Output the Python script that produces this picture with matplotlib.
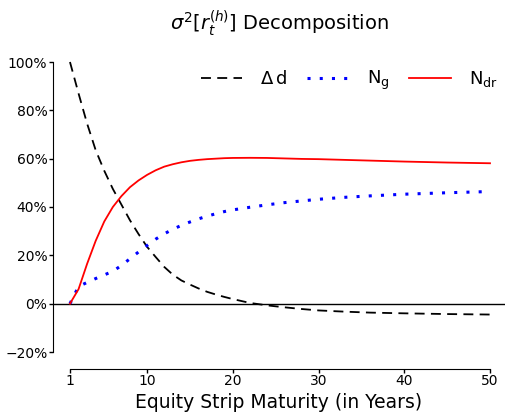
import matplotlib
matplotlib.use("Agg")
import matplotlib.pyplot as plt

plt.rcParams['font.family'] = ['DejaVu Sans']
plt.rcParams['mathtext.fontset'] = 'dejavusans'

# Maturity in years
years = [1, 2, 3, 4, 5, 6, 7, 8, 9, 10, 11, 12, 13, 14, 15, 16, 17, 18, 19, 20,
         22, 24, 26, 28, 30, 33, 36, 40, 45, 50]
# Share of variance (in %)
delta_d = [100, 87, 74.5, 63.5, 55, 47.5, 41, 34.5, 28.8, 23.5, 19.3, 15.2, 12, 9.6, 7.9,
           6.3, 4.9, 3.8, 2.8, 1.9, 0.3, -0.7, -1.5, -2.2, -2.8, -3.3, -3.7, -4.0, -4.3, -4.5]
n_g = [0, 7.1, 8.8, 10.4, 11.9, 13.4, 15.8, 18.6, 21.4, 24.1, 26.7, 28.9, 30.8, 32.4, 33.8,
       35.1, 36.2, 37.2, 38.1, 38.8, 39.9, 40.9, 41.8, 42.5, 43.2, 44.0, 44.6, 45.3, 45.9, 46.4]
n_dr = [0, 6.0, 16.5, 26, 34, 40, 44.5, 48.2, 51, 53.3, 55.2, 56.7, 57.7, 58.5, 59.1,
        59.5, 59.8, 60.0, 60.2, 60.3, 60.35, 60.3, 60.1, 59.9, 59.8, 59.5, 59.2, 58.8, 58.4, 58.1]

xticks = [1, 10, 20, 30, 40, 50]
yticks = [-20, 0, 20, 40, 60, 80, 100]
ytick_labels = [f"{v}%".replace("-", "\u2212") for v in yticks]

title = r"$\sigma^2[r_t^{(h)}]$ Decomposition"
xlabel = "Equity Strip Maturity (in Years)"
legend_labels = [r"$\Delta\,\mathrm{d}$", r"$\mathrm{N_g}$", r"$\mathrm{N_{dr}}$"]

fig = plt.figure(figsize=(5.06, 4.15), dpi=100)
ax = fig.add_axes([53/506, 1 - 352/415, 452/506, 290/415])

ax.axhline(0, color="black", lw=1.0, zorder=1)
l1, = ax.plot(years, delta_d, color="black", lw=1.3, dashes=(5.5, 3.5), clip_on=False)
l2, = ax.plot(years, n_g, color="blue", lw=2.2, linestyle=(0, (1, 3)), clip_on=False)
l3, = ax.plot(years, n_dr, color="red", lw=1.3, clip_on=False)

ax.set_xlim(-0.98, 51.75)
ax.set_ylim(-20, 100)
ax.set_xticks(xticks)
ax.set_yticks(yticks)
ax.set_yticklabels(ytick_labels)
ax.tick_params(labelsize=10, length=2.6, width=1, pad=1.5)

for s in ["top", "right"]:
    ax.spines[s].set_visible(False)
ax.spines["bottom"].set_position(("outward", 12))
ax.spines["bottom"].set_bounds(1, 50)
ax.spines["left"].set_bounds(-20, 100)

ax.set_xlabel(xlabel, fontsize=13.5, labelpad=3)
ax.set_title(title, fontsize=14, pad=23)

ax.legend([l1, l2, l3], legend_labels, loc="upper right", ncol=3, frameon=False,
          fontsize=13, handlelength=2.3, handletextpad=1.0, columnspacing=1.1,
          bbox_to_anchor=(1.0, 1.0), borderaxespad=0.0)

fig.savefig("out.png", dpi=100)
